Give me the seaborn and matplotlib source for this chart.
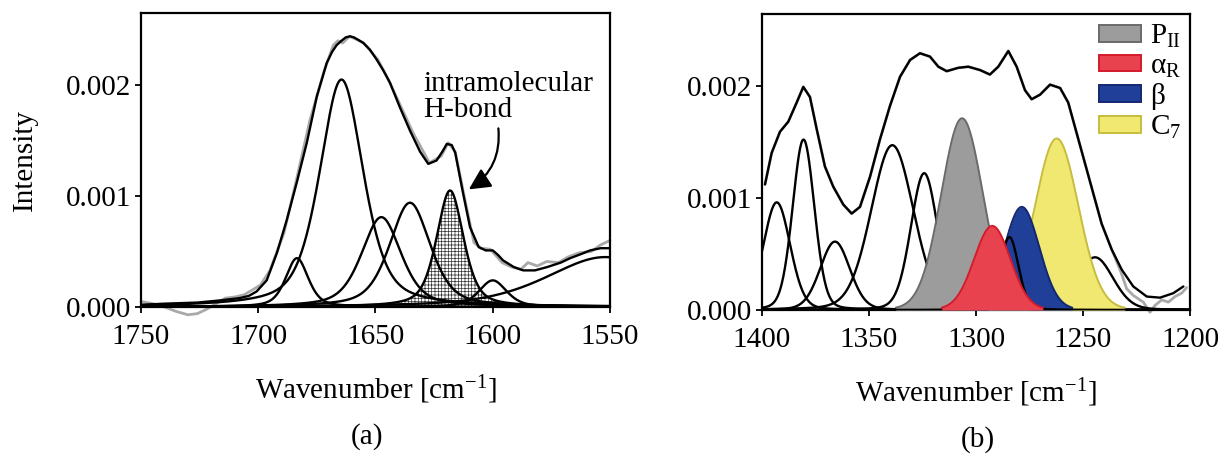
import numpy as np
import pandas as pd
import matplotlib
matplotlib.use("Agg")
import matplotlib.pyplot as plt
import seaborn as sns
from matplotlib.patches import Patch, FancyArrowPatch
from matplotlib.ticker import FormatStrFormatter

sns.set_theme(style="white")
plt.rcParams.update({
    "font.family": ["Liberation Serif", "DejaVu Serif"],
    "mathtext.fontset": "custom",
    "mathtext.rm": "Liberation Serif",
    "mathtext.it": "Liberation Serif:italic",
    "mathtext.bf": "Liberation Serif:bold",
    "axes.unicode_minus": False,
    "hatch.linewidth": 0.5,
    "text.color": "black",
    "axes.labelcolor": "black",
    "xtick.color": "black",
    "ytick.color": "black",
})

# ---------------- data : panel (a) ----------------
a_meas_w = [1750, 1745, 1740, 1735, 1730, 1726, 1722, 1718, 1714, 1710, 1706, 1702, 1699,
            1695, 1689, 1684, 1678, 1672, 1668, 1666, 1664, 1661, 1655, 1649, 1645, 1641,
            1634, 1627, 1622, 1619, 1616, 1612, 1608, 1605, 1601, 1596, 1592, 1588, 1585,
            1581, 1577, 1572, 1568, 1563, 1558, 1554, 1550]
a_meas_I = [0.00005, 0.00003, 0.0, -0.00004, -0.00007, -0.00006, -0.00002, 0.00003, 0.00008,
            0.00009, 0.00011, 0.00016, 0.00020, 0.00033, 0.00067, 0.00112, 0.00168, 0.00212,
            0.00236, 0.00240, 0.00238, 0.00244, 0.00238, 0.00223, 0.00207, 0.00189, 0.00157,
            0.00130, 0.00136, 0.00148, 0.00140, 0.00098, 0.00058, 0.00053, 0.00052, 0.00040,
            0.00036, 0.00034, 0.00040, 0.00037, 0.00041, 0.00040, 0.00045, 0.00049, 0.00050,
            0.00056, 0.00060]

a_env_w = [1750, 1740, 1726, 1716, 1708, 1704, 1700.7, 1696.4, 1692, 1687.9, 1683.6, 1679.3,
           1675, 1670.8, 1668.5, 1666.6, 1664.5, 1662.7, 1660.9, 1659.2, 1657.5, 1655.2, 1652.4,
           1649.5, 1646.6, 1643.8, 1639.6, 1635.3, 1631, 1627.5, 1624, 1621.5, 1619.6, 1617.5,
           1616, 1612.7, 1609.7, 1606, 1603, 1600, 1597.8, 1595.6, 1591, 1587, 1582, 1576.8,
           1571, 1567, 1562, 1558.5, 1554, 1550]
a_env_I = [0.00002, 0.00003, 0.00004, 0.00006, 0.00008, 0.00010, 0.00014, 0.00024, 0.00049,
           0.00078, 0.00112, 0.00148, 0.00190, 0.00220, 0.00230, 0.00236, 0.00240, 0.00243,
           0.00244, 0.00243, 0.00241, 0.00238, 0.00232, 0.00223, 0.00213, 0.00202, 0.00180,
           0.00159, 0.00140, 0.00129, 0.00132, 0.00140, 0.00147, 0.00146, 0.00139, 0.00103,
           0.00072, 0.00054, 0.00051, 0.00051, 0.00047, 0.00042, 0.00036, 0.00033, 0.00033,
           0.00036, 0.00040, 0.00044, 0.00048, 0.00051, 0.00053, 0.00053]

# fitted bands (a): centre, height, half width at half max
a_band_c = [1683.5, 1664.5, 1647.5, 1635.3, 1600.0, 1552.0]
a_band_h = [0.00044, 0.00205, 0.00081, 0.00094, 0.00024, 0.00045]
a_band_w = [5.7, 11.0, 10.0, 10.3, 7.0, 30.0]
a_hb_c, a_hb_h, a_hb_w = 1618.2, 0.00105, 6.8   # intramolecular H-bond band

# ---------------- data : panel (b) ----------------
b_env_w = [1398.6, 1395.5, 1391.6, 1387.7, 1383.8, 1380.7, 1377.6, 1374.4, 1370.6, 1366.7,
           1362.0, 1358.1, 1354.2, 1349.5, 1344.9, 1340.2, 1335.5, 1330.8, 1326.2, 1321.5,
           1317.6, 1313.7, 1308.3, 1303.6, 1298.1, 1293.5, 1289.6, 1284.9, 1281.0, 1277.1,
           1274.0, 1270.1, 1265.4, 1260.7, 1256.9, 1253.0, 1249.1, 1245.2, 1241.3, 1236.6,
           1231.9, 1226.5, 1220.2, 1214.0, 1207.8, 1203.1]
b_env_I = [0.00112, 0.00140, 0.00159, 0.00168, 0.00185, 0.00199, 0.00190, 0.00161, 0.00128,
           0.00110, 0.00094, 0.00086, 0.00092, 0.00119, 0.00152, 0.00182, 0.00208, 0.00223,
           0.00229, 0.00226, 0.00217, 0.00213, 0.00216, 0.00217, 0.00214, 0.00210, 0.00217,
           0.00231, 0.00217, 0.00196, 0.00188, 0.00192, 0.00201, 0.00198, 0.00185, 0.00158,
           0.00131, 0.00104, 0.00077, 0.00054, 0.00036, 0.00021, 0.00012, 0.00011, 0.00015,
           0.00021]
b_meas_w = [1398.6, 1395.5, 1391.6, 1387.7, 1383.8, 1380.7, 1377.6, 1374.4, 1370.6, 1366.7,
            1362.0, 1358.1, 1354.2, 1349.5, 1344.9, 1340.2, 1335.5, 1330.8, 1326.2, 1321.5,
            1317.6, 1313.7, 1308.3, 1303.6, 1298.1, 1293.5, 1289.6, 1284.9, 1281.0, 1277.1,
            1274.0, 1270.1, 1265.4, 1260.7, 1256.9, 1253.0, 1249.1, 1245.2, 1241.3, 1236.6,
            1232.5, 1229.6, 1226.5, 1221.8, 1218.7, 1216.4, 1213.2, 1210.1, 1207.0, 1203.9,
            1201.6]
b_meas_I = [0.00112, 0.00140, 0.00159, 0.00168, 0.00185, 0.00199, 0.00190, 0.00161, 0.00128,
            0.00110, 0.00094, 0.00086, 0.00092, 0.00119, 0.00152, 0.00182, 0.00208, 0.00223,
            0.00229, 0.00226, 0.00217, 0.00213, 0.00216, 0.00217, 0.00214, 0.00210, 0.00217,
            0.00231, 0.00217, 0.00196, 0.00188, 0.00192, 0.00201, 0.00198, 0.00185, 0.00158,
            0.00131, 0.00104, 0.00077, 0.00054, 0.00035, 0.00019, 0.00013, 0.00007, -0.00002,
            0.00004, 0.00009, 0.00007, 0.00012, 0.00015, 0.00020]

b_band_c = [1393.1, 1380.6, 1365.9, 1339.1, 1324.2, 1244.4]
b_band_h = [0.00096, 0.00152, 0.00061, 0.00147, 0.00122, 0.00047]
b_band_w = [7.4, 6.0, 8.2, 11.7, 7.4, 10.0]
b_extra_c, b_extra_h, b_extra_w = 1284.4, 0.00065, 5.0

conf_names = ["P$_{\\mathrm{II}}$", "α$_{\\mathrm{R}}$", "β", "C$_{7}$"]
conf_c = [1306.5, 1292.4, 1278.6, 1262.3]
conf_h = [0.00171, 0.00075, 0.00092, 0.00153]
conf_w = [11.5, 10.0, 9.7, 12.0]
conf_face = ["#9c9c9c", "#e8424f", "#1f3f98", "#f1e871"]
conf_edge = ["#6a6a6a", "#d41a2b", "#13286e", "#c6bd3e"]


def band(x, c, h, w, eta):
    u = ((x - c) / w) ** 2
    return h * (eta / (1 + u) + (1 - eta) * np.exp(-np.log(2) * u))


BLK = 1.7
fig = plt.figure(figsize=(12.22, 4.55), dpi=100)
axa = fig.add_axes([141 / 1222, 1 - 307 / 455, 469 / 1222, 294 / 455])
axb = fig.add_axes([762 / 1222, 1 - 310 / 455, 428 / 1222, 296 / 455])

# ---------------- panel (a) ----------------
xa = np.linspace(1750, 1550, 801)
sns.lineplot(x=a_meas_w, y=a_meas_I, ax=axa, color="#a9a9a9", lw=2.0, sort=False,
             estimator=None, zorder=1)
axa.lines[-1].set_clip_on(False)
hb = band(xa, a_hb_c, a_hb_h, a_hb_w, 0.5)
axa.fill_between(xa, 0, hb, facecolor="white", edgecolor="#333333", hatch="+++++",
                 linewidth=0, zorder=2)
sns.lineplot(x=xa, y=hb, ax=axa, color="black", lw=BLK, sort=False, estimator=None, zorder=3)
for c, h, w in zip(a_band_c, a_band_h, a_band_w):
    sns.lineplot(x=xa, y=band(xa, c, h, w, 0.5), ax=axa, color="black", lw=BLK,
                 sort=False, estimator=None, zorder=3)
sns.lineplot(x=a_env_w, y=a_env_I, ax=axa, color="black", lw=BLK, sort=False,
             estimator=None, zorder=4)
axa.set_xlim(1750, 1550)
axa.set_ylim(0, 0.00265)
axa.set_xticks([1750, 1700, 1650, 1600, 1550])
axa.set_yticks([0.0, 0.001, 0.002])
axa.set_ylabel("Intensity", fontsize=21, labelpad=20)

axa.text(1629.7, 0.00189, "intramolecular\nH-bond", fontsize=21, ha="left", va="center",
         linespacing=1.0)
arr = FancyArrowPatch((1597.6, 0.00161), (1610.2, 0.00106),
                      connectionstyle="arc3,rad=-0.3",
                      arrowstyle="-|>,head_length=10,head_width=5",
                      color="black", lw=1.6, mutation_scale=1.3, shrinkA=0, shrinkB=0,
                      zorder=6)
axa.add_patch(arr)

# ---------------- panel (b) ----------------
xb = np.linspace(1400, 1200, 801)
sns.lineplot(x=b_meas_w, y=b_meas_I, ax=axb, color="#a9a9a9", lw=2.0, sort=False,
             estimator=None, zorder=1)
axb.lines[-1].set_clip_on(False)
for c, h, w in zip(b_band_c, b_band_h, b_band_w):
    sns.lineplot(x=xb, y=band(xb, c, h, w, 0.15), ax=axb, color="black", lw=BLK,
                 sort=False, estimator=None, zorder=2)
order = [0, 3, 2, 1]           # P_II, C7, beta, alpha_R (drawing order)
zs = {0: 3, 3: 4, 2: 5, 1: 7}
for i in order:
    yb = band(xb, conf_c[i], conf_h[i], conf_w[i], 0.05)
    m = yb > 0.00002
    axb.fill_between(xb, 0, yb, where=m, facecolor=conf_face[i], linewidth=0, zorder=zs[i])
    sns.lineplot(x=xb[m], y=yb[m], ax=axb, color=conf_edge[i], lw=1.4, sort=False,
                 estimator=None, zorder=zs[i] + 0.1)
sns.lineplot(x=xb, y=band(xb, b_extra_c, b_extra_h, b_extra_w, 0.15), ax=axb,
             color="black", lw=BLK, sort=False, estimator=None, zorder=6)
sns.lineplot(x=b_env_w, y=b_env_I, ax=axb, color="black", lw=BLK, sort=False,
             estimator=None, zorder=8)
axb.set_xlim(1400, 1200)
axb.set_ylim(0, 0.00264)
axb.set_xticks([1400, 1350, 1300, 1250, 1200])
axb.set_yticks([0.0, 0.001, 0.002])
axb.set_ylabel("")

handles = [Patch(facecolor=conf_face[i], edgecolor=conf_edge[i], linewidth=1.4)
           for i in range(4)]
leg = axb.legend(handles, conf_names, loc="upper right", bbox_to_anchor=(1.0, 1.0),
                 frameon=False, fontsize=21, handlelength=1.45, handleheight=0.5,
                 handletextpad=0.3, labelspacing=0.12, borderaxespad=0.1, borderpad=0.2)
for t in leg.get_texts():
    t.set_color("black")

for ax in (axa, axb):
    ax.set_xlabel("Wavenumber [cm$^{\\mathrm{-1}}$]", fontsize=21, labelpad=17)
    ax.yaxis.set_major_formatter(FormatStrFormatter("%.3f"))
    ax.tick_params(axis="both", which="major", direction="out", length=4, width=1.3,
                   labelsize=21, color="black", labelcolor="black", pad=3)
    ax.tick_params(axis="x", pad=8)
    ax.tick_params(axis="both", bottom=True, left=True)
    for s in ax.spines.values():
        s.set_visible(True)
        s.set_color("black")
        s.set_linewidth(1.6)
    ax.set_facecolor("white")

fig.text(367 / 1222, 1 - 437 / 455, "(a)", fontsize=21, ha="center", va="center")
fig.text(978 / 1222, 1 - 440 / 455, "(b)", fontsize=21, ha="center", va="center")

fig.savefig("out.png", dpi=100, facecolor="white")
